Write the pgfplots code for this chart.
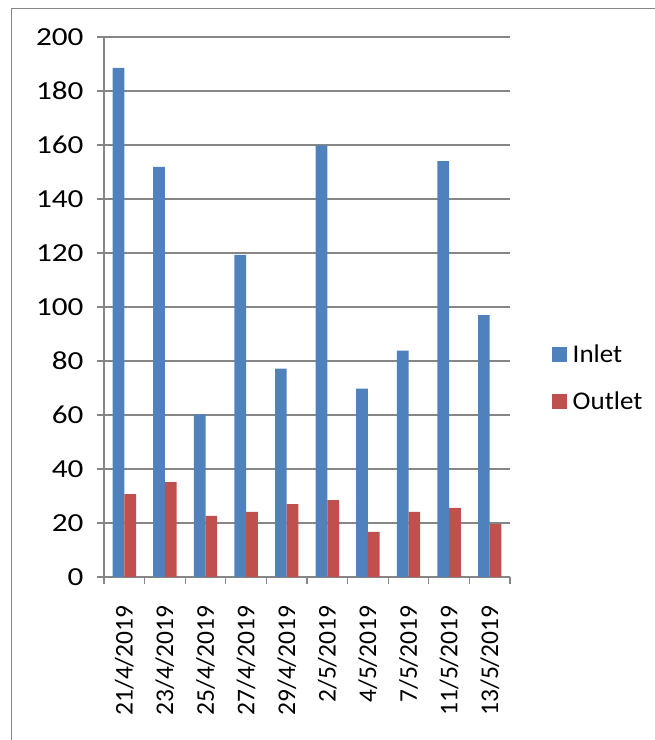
\documentclass[border=0pt]{standalone}
\usepackage{pgfplots}
\pgfplotsset{compat=1.18}
\usepackage{fontspec}
\setmainfont{Carlito}
\newfontfamily\legendfamily[FakeStretch=1.06]{Carlito}
\newfontfamily\widefamily[FakeStretch=1.2]{Carlito}
\definecolor{inletblue}{RGB}{79,129,189}
\definecolor{outletred}{RGB}{192,80,77}
\definecolor{gridgray}{RGB}{134,134,134}

\begin{document}
\begin{tikzpicture}[x=1bp,y=1bp]
\useasboundingbox (0,0) rectangle (655,740);
% outer chart frame
\draw[gridgray, line width=1bp] (11,-20) rectangle (700,731);
\begin{axis}[
  at={(104bp,163bp)}, anchor=south west,
  scale only axis, width=406bp, height=540bp,
  ybar=0pt, bar width=11.7bp,
  xmin=-0.5, xmax=9.5, ymin=0, ymax=200,
  xtick={0,...,9},
  xticklabels={21/4/2019,23/4/2019,25/4/2019,27/4/2019,29/4/2019,2/5/2019,4/5/2019,7/5/2019,11/5/2019,13/5/2019},
  minor xtick={-0.5,0.5,...,9.5},
  ytick={0,20,...,200},
  axis x line=bottom, axis y line=left,
  axis line style={gridgray, line width=1.3bp, -},
  ymajorgrids, grid style={gridgray, line width=1.3bp},
  tick align=outside,
  major tick length=7bp, minor tick length=7bp,
  major x tick style={draw=none},
  minor x tick style={gridgray, line width=1.3bp},
  ytick style={gridgray, line width=1.3bp},
  /pgf/number format/assume math mode=true,
  xticklabel style={rotate=90, anchor=east, font=\fontsize{25.5bp}{30bp}\selectfont},
  yticklabel style={font=\widefamily\fontsize{26bp}{30bp}\selectfont},
  xticklabel shift={18bp},
  yticklabel shift={10bp},
  legend style={draw=none, fill=none, at={(1,0.369)}, anchor=west, xshift=39bp,
    font=\legendfamily\fontsize{25.5bp}{29bp}\selectfont, row sep=24bp, column sep=4bp},
  legend cell align=left,
  legend image code/.code={\fill[#1] (0bp,-7.5bp) rectangle (14.5bp,7.5bp);},
]
\addplot[fill=inletblue, draw=none] coordinates {
  (0,188.6) (1,151.9) (2,60.2) (3,119.3) (4,77.2)
  (5,159.9) (6,69.8) (7,83.8) (8,154.0) (9,97.0)};
\addplot[fill=outletred, draw=none] coordinates {
  (0,30.7) (1,35.1) (2,22.6) (3,24.1) (4,27.0)
  (5,28.5) (6,16.7) (7,24.1) (8,25.6) (9,19.6)};
\legend{Inlet, Outlet}
\end{axis}
\end{tikzpicture}
\end{document}
